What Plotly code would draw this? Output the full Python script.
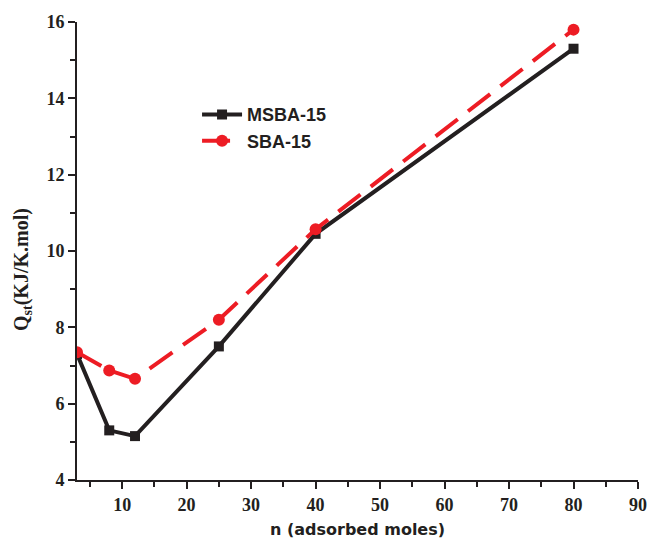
import plotly.graph_objects as go

n_msba = [3, 8, 12, 25, 40, 80]
q_msba = [7.3, 5.3, 5.15, 7.5, 10.45, 15.3]
n_sba = [3, 8, 12, 25, 40, 80]
q_sba = [7.35, 6.87, 6.65, 8.2, 10.57, 15.8]

fig = go.Figure()
fig.add_trace(go.Scatter(x=n_msba, y=q_msba, mode="lines+markers", name="MSBA-15",
                         line=dict(color="#231f20", width=4),
                         marker=dict(symbol="square", size=10, color="#231f20")))
fig.add_trace(go.Scatter(x=n_sba, y=q_sba, mode="lines+markers", name="SBA-15",
                         line=dict(color="#ed1c24", width=4, dash="28px,13px"),
                         marker=dict(symbol="circle", size=12, color="#ed1c24")))

tickfont = dict(family="Liberation Serif", size=18, color="#231f20", weight="bold")
fig.update_layout(
    width=649, height=545,
    margin=dict(l=77, r=11, t=22, b=65),
    plot_bgcolor="white", paper_bgcolor="white",
    showlegend=True,
    legend=dict(x=0.214, y=0.838, xanchor="left", yanchor="top",
                bgcolor="rgba(0,0,0,0)",
                font=dict(family="Liberation Sans", size=18, color="#231f20", weight="bold"),
                itemwidth=40, tracegroupgap=0),
    xaxis=dict(range=[3, 90], tickvals=[10, 20, 30, 40, 50, 60, 70, 80, 90],
               automargin=False, ticklabeloverflow="allow",
               ticks="outside", ticklen=7, tickwidth=1.5, tickcolor="#231f20",
               showline=True, linecolor="#231f20", linewidth=2, showgrid=False, zeroline=False,
               minor=dict(tickvals=[5, 15, 25, 35, 45, 55, 65, 75, 85], ticks="outside",
                          ticklen=5, tickwidth=1.5, tickcolor="#231f20"),
               tickfont=tickfont,
               title=dict(text="n (adsorbed moles)",
                          font=dict(family="DejaVu Sans", size=16, color="#231f20", weight="bold"),
                          standoff=10)),
    yaxis=dict(range=[4, 16], tickvals=[4, 6, 8, 10, 12, 14, 16],
               automargin=False, ticklabeloverflow="allow",
               ticks="outside", ticklen=7, tickwidth=1.5, tickcolor="#231f20",
               showline=True, linecolor="#231f20", linewidth=2, showgrid=False, zeroline=False,
               minor=dict(tickvals=[5, 7, 9, 11, 13, 15], ticks="outside",
                          ticklen=5, tickwidth=1.5, tickcolor="#231f20"),
               tickfont=tickfont),
    annotations=[dict(text="Q<sub>st</sub>(KJ/K.mol)", textangle=-90,
                      xref="paper", yref="paper", x=-0.098, y=0.4585,
                      xanchor="center", yanchor="middle", showarrow=False,
                      font=dict(family="Liberation Serif", size=20, color="#231f20", weight="bold"))],
)
fig.write_html("out.html", config={"displayModeBar": False},
               post_script="document.body.style.margin='0';document.body.style.overflow='hidden';")
